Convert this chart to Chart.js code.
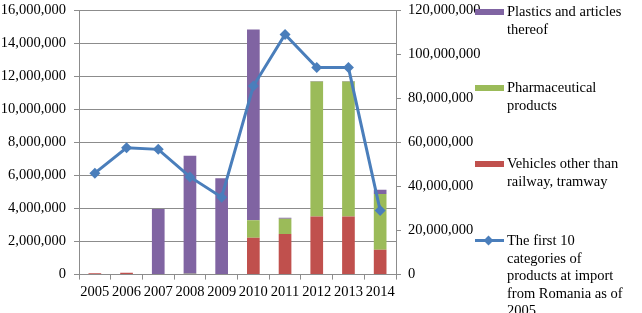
<!DOCTYPE html>
<html>
<head>
<meta charset="utf-8">
<script src="https://cdn.jsdelivr.net/npm/chart.js@4.4.1/dist/chart.umd.min.js"></script>
<style>
  html, body { margin: 0; padding: 0; background: #fff; }
  #wrap { position: relative; width: 642px; height: 313px; overflow: hidden; }
  #c { position: absolute; left: 0; top: 0; }
  .lg { position: absolute; left: 475px; font-family: "Liberation Serif", "Times New Roman", serif; font-size: 14.5px; line-height: 17.5px; color: #000; }
  .lg .mk { position: absolute; left: 0; width: 29px; height: 6px; }
  .lg .tx { position: absolute; left: 32px; white-space: nowrap; }
  .lg .ln { position: absolute; left: 0; width: 29px; height: 3px; background: #4A7EBB; }
  .lg .dm { position: absolute; left: 10px; width: 7px; height: 7px; background: #4A7EBB; transform: rotate(45deg); }
</style>
</head>
<body>
<div id="wrap">
  <canvas id="c" width="642" height="313"></canvas>
  <div class="lg" style="top:3px"><div class="mk" style="top:6px;background:#8064A2"></div><div class="tx">Plastics and articles<br>thereof</div></div>
  <div class="lg" style="top:79px"><div class="mk" style="top:6px;background:#9BBB59"></div><div class="tx">Pharmaceutical<br>products</div></div>
  <div class="lg" style="top:155px"><div class="mk" style="top:6px;background:#C0504D"></div><div class="tx">Vehicles other than<br>railway, tramway</div></div>
  <div class="lg" style="top:232px"><div class="ln" style="top:7px"></div><div class="dm" style="top:5px"></div><div class="tx">The first 10<br>categories of<br>products at import<br>from Romania as of<br>2005</div></div>
</div>
<script>
const years = ['2005','2006','2007','2008','2009','2010','2011','2012','2013','2014'];
const vehicles = [80000, 110000, 0, 0, 0, 2230000, 2450000, 3510000, 3510000, 1500000];
const pharma = [0, 0, 0, 50000, 0, 1050000, 930000, 8170000, 8170000, 3380000];
const plastics = [0, 0, 3970000, 7130000, 5820000, 11540000, 60000, 20000, 20000, 250000];
const first10 = [46000000, 57500000, 56800000, 44300000, 35100000, 85500000, 108900000, 93900000, 93900000, 29100000];

const gridColor = '#8c8c8c';
const font = { family: '"Liberation Serif", "Times New Roman", serif', size: 14.5 };
const fmt = v => Number(v).toLocaleString('en-US');

new Chart(document.getElementById('c'), {
  data: {
    labels: years,
    datasets: [
      { type: 'line', label: 'The first 10 categories of products at import from Romania as of 2005', data: first10, yAxisID: 'y1',
        borderColor: '#4A7EBB', backgroundColor: '#4A7EBB', borderWidth: 3, pointStyle: 'rectRot', pointRadius: 5.5,
        pointBorderWidth: 0, tension: 0, order: 0 },
      { type: 'bar', label: 'Vehicles other than railway, tramway', data: vehicles, yAxisID: 'y', backgroundColor: '#C0504D', stack: 's', order: 1 },
      { type: 'bar', label: 'Pharmaceutical products', data: pharma, yAxisID: 'y', backgroundColor: '#9BBB59', stack: 's', order: 1 },
      { type: 'bar', label: 'Plastics and articles thereof', data: plastics, yAxisID: 'y', backgroundColor: '#8064A2', stack: 's', order: 1 }
    ]
  },
  options: {
    responsive: false,
    animation: false,
    layout: { padding: { left: 0, right: 162, top: 10, bottom: 8 } },
    datasets: { bar: { barPercentage: 0.4, categoryPercentage: 1.0 } },
    plugins: { legend: { display: false }, tooltip: { enabled: false } },
    scales: {
      x: {
        stacked: true,
        grid: { drawOnChartArea: false, drawTicks: true, tickLength: 5, color: gridColor, offset: true },
        border: { color: gridColor },
        ticks: { color: '#000', font: font, padding: 4, maxRotation: 0, autoSkip: false }
      },
      y: {
        position: 'left', stacked: true, min: 0, max: 16000000,
        afterFit: s => { s.width = 79; s.paddingTop = 0; s.paddingBottom = 0; },
        grid: { color: gridColor, tickLength: 5 },
        border: { color: gridColor },
        ticks: { stepSize: 2000000, color: '#000', font: font, padding: 8, callback: fmt }
      },
      y1: {
        position: 'right', min: 0, max: 120000000,
        afterFit: s => { s.width = 84; s.paddingTop = 0; s.paddingBottom = 0; },
        grid: { drawOnChartArea: false, color: gridColor, tickLength: 5 },
        border: { color: gridColor },
        ticks: { stepSize: 20000000, color: '#000', font: font, padding: 7, callback: fmt }
      }
    }
  }
});
</script>
</body>
</html>
